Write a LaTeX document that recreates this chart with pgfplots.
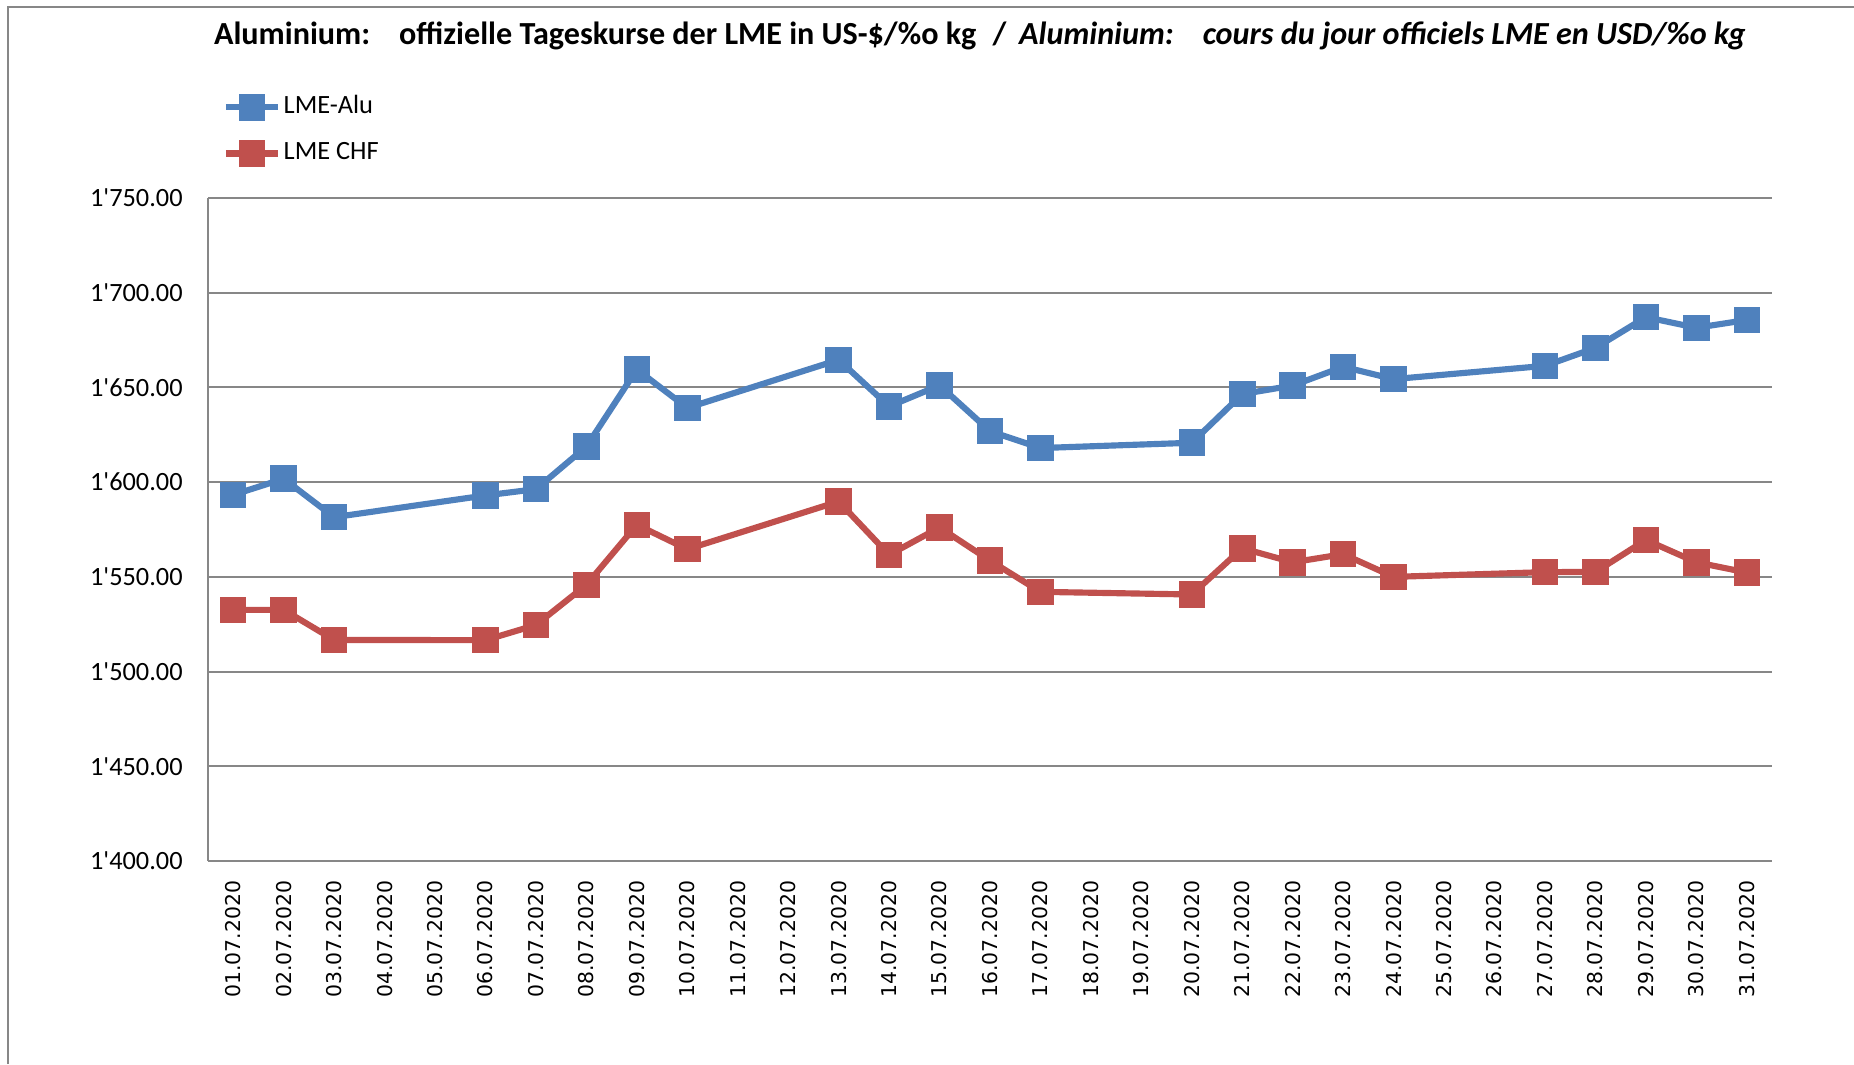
\documentclass[border=0pt]{standalone}
\usepackage{fontspec}
\setmainfont{Carlito}
\newfontfamily\carlitonomap{Carlito}[Ligatures=TeXOff]
\newfontfamily\dejavu{DejaVu Sans}
\usepackage{pgfplots}
\pgfplotsset{compat=1.18}
\definecolor{lmeblue}{HTML}{4F81BD}
\definecolor{lmered}{HTML}{C0504D}
\definecolor{gridgray}{HTML}{878787}

\pgfplotstableread{
x y
1 1593.3
2 1601.8
3 1581.5
6 1593.0
7 1596.3
8 1618.8
9 1659.5
10 1639.2
13 1664.6
14 1640.0
15 1651.1
16 1626.9
17 1618.0
20 1620.8
21 1646.5
22 1651.0
23 1660.9
24 1654.4
27 1661.4
28 1670.9
29 1687.1
30 1681.5
31 1685.6
}\alu
\pgfplotstableread{
x y
1 1532.6
2 1532.6
3 1516.7
6 1516.6
7 1524.6
8 1545.8
9 1577.5
10 1564.6
13 1589.8
14 1561.6
15 1576.1
16 1558.6
17 1542.1
20 1540.7
21 1565.1
22 1557.7
23 1562.0
24 1550.0
27 1552.5
28 1552.6
29 1569.5
30 1557.7
31 1552.3
}\chf

\begin{document}
\begin{tikzpicture}
\path[use as bounding box] (0,0) rectangle (18.54cm,10.64cm);
\draw[gridgray, line width=0.8pt] (0.08cm,0) -- (0.08cm,10.57cm) -- (18.54cm,10.57cm);
\begin{axis}[
  at={(2.08cm,2.03cm)}, anchor=south west,
  scale only axis, width=15.64cm, height=6.63cm,
  xmin=0.5, xmax=31.5, ymin=1400, ymax=1750,
  axis x line=bottom, axis y line=left,
  axis line style={gridgray, line width=0.6pt, -},
  major tick length=0pt,
  ymajorgrids, grid style={gridgray, line width=0.6pt},
  ytick={1400,1450,1500,1550,1600,1650,1700,1750},
  yticklabels={1'400.00,1'450.00,1'500.00,1'550.00,1'600.00,1'650.00,1'700.00,1'750.00},
  yticklabel style={font=\carlitonomap\fontsize{7.5}{9}\selectfont, inner sep=0pt, anchor=east},
  yticklabel shift=7pt,
  xtick={1,...,31},
  xticklabels={01.07.2020,02.07.2020,03.07.2020,04.07.2020,05.07.2020,06.07.2020,07.07.2020,08.07.2020,09.07.2020,10.07.2020,11.07.2020,12.07.2020,13.07.2020,14.07.2020,15.07.2020,16.07.2020,17.07.2020,18.07.2020,19.07.2020,20.07.2020,21.07.2020,22.07.2020,23.07.2020,24.07.2020,25.07.2020,26.07.2020,27.07.2020,28.07.2020,29.07.2020,30.07.2020,31.07.2020},
  xticklabel style={font=\dejavu\fontsize{5.8}{7}\selectfont, rotate=90, anchor=east, inner sep=0pt},
  xticklabel shift=5.4pt,
  every axis title shift=0pt,
  title={\textbf{Aluminium:\hspace{0.9em}offizielle Tageskurse der LME in US-\$/\%o kg\hspace{0.5em}/\hspace{0.4em}\textit{Aluminium:\hspace{0.9em}cours du jour officiels LME en USD/\%o kg}}},
  title style={font=\fontsize{9.15}{11}\selectfont, at={(0.4935,1.245)}, anchor=center, inner sep=0pt},
  legend style={at={(0.009,1.045)}, anchor=south west, draw=none, fill=none, inner sep=0pt,
    font=\fontsize{7.5}{9}\selectfont, row sep=5pt, nodes={inner sep=0.8pt}},
  legend cell align=left,
  legend image code/.code={\draw[mark repeat=2,mark phase=2] plot coordinates {(0cm,0cm) (0.26cm,0cm) (0.52cm,0cm)};},
]
\addplot[lmeblue, line width=1.75pt, mark=square*, mark size=2.9pt, mark options={solid}] table[x=x,y=y] {\alu};
\addlegendentry{LME-Alu}
\addplot[lmered, line width=1.75pt, mark=square*, mark size=2.9pt, mark options={solid}] table[x=x,y=y] {\chf};
\addlegendentry{LME CHF}
\end{axis}
\end{tikzpicture}
\end{document}
